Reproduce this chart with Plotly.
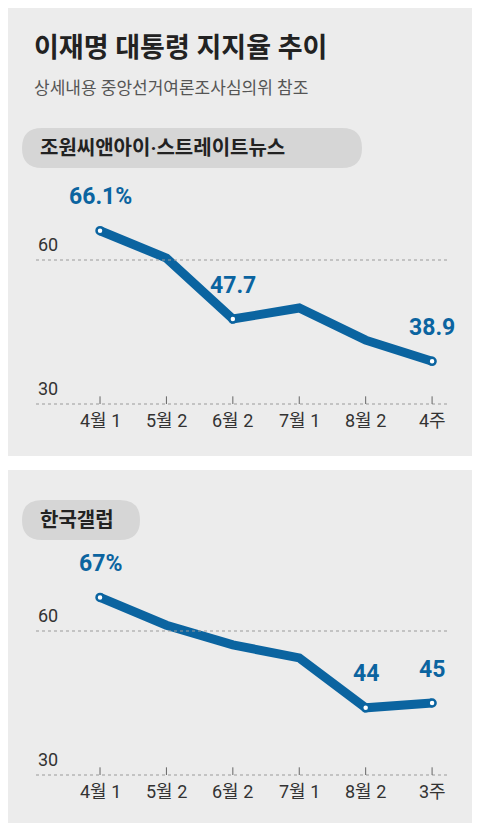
import plotly.graph_objects as go

W, H = 480, 823
weeks_top = ["4월 1", "5월 2", "6월 2", "7월 1", "8월 2", "4주"]
weeks_bottom = ["4월 1", "5월 2", "6월 2", "7월 1", "8월 2", "3주"]
nbs = [66.1, 60.4, 47.7, 50.0, 43.3, 38.9]
gallup = [67, 61.2, 57.1, 54.4, 44, 45]
nbs_labels = ["66.1%", "", "47.7", "", "", "38.9"]
gallup_labels = ["67%", "", "", "", "44", "45"]

BLUE = "#0b64a0"
BG = "#ececec"
FONT = "Roboto, Noto Sans CJK KR"
OFF = 8  # browser body margin compensation


def fy(px):
    return (H - (px - OFF)) / H


def fx(px):
    return (px - OFF) / W


fig = go.Figure()
x_idx = list(range(6))
panels = [
    ("x", "y", nbs, nbs_labels, weeks_top, (200, 420), (26.67, 72.5)),
    ("x2", "y2", gallup, gallup_labels, weeks_bottom, (570, 790), (26.875, 72.71)),
]
for xa, ya, vals, labs, cats, dom, rng in panels:
    fig.add_trace(go.Scatter(
        x=x_idx, y=vals, xaxis=xa, yaxis=ya, mode="lines",
        line=dict(color=BLUE, width=9), hoverinfo="skip"))
    pts = [i for i, t in enumerate(labs) if t]
    fig.add_trace(go.Scatter(
        x=pts, y=[vals[i] for i in pts], xaxis=xa, yaxis=ya, mode="markers",
        marker=dict(color="white", size=7, line=dict(color=BLUE, width=2.5)),
        hoverinfo="skip"))
    for i in pts:
        fig.add_annotation(x=i, y=vals[i], xref=xa, yref=ya, text="<b>" + labs[i] + "</b>",
                           showarrow=False, yshift=34,
                           font=dict(family=FONT, size=23, color=BLUE))
    for v in (60, 30):
        fig.add_shape(type="line", xref=xa + " domain", yref=ya,
                      x0=0, x1=0.99, y0=v, y1=v,
                      line=dict(color="#999", width=1.2, dash="dot"))
        fig.add_annotation(x=0, y=v, xref=xa + " domain", yref=ya, text=str(v),
                           showarrow=False, xanchor="left", yanchor="bottom",
                           yshift=3, font=dict(family=FONT, size=18, color="#333"))
    for i in x_idx:
        fig.add_shape(type="line", xref=xa, yref=ya, x0=i, x1=i, y0=30, y1=31.6,
                      line=dict(color="#666", width=1))
        fig.add_annotation(x=i, y=30, xref=xa, yref=ya, text=cats[i],
                           showarrow=False, yanchor="top", yshift=-4,
                           font=dict(family=FONT, size=18, color="#333"))

ax = dict(range=[-0.964, 5.30], domain=[fx(36), fx(452)], visible=False, fixedrange=True)
fig.update_layout(
    width=W, height=H, margin=dict(l=0, r=0, t=0, b=0),
    paper_bgcolor=BG, plot_bgcolor="rgba(0,0,0,0)", showlegend=False,
    xaxis=ax, xaxis2=dict(ax, anchor="y2"),
    yaxis=dict(range=[26.67, 72.5], domain=[fy(420), fy(200)], visible=False),
    yaxis2=dict(range=[26.875, 72.71], domain=[fy(790), fy(570)], visible=False, anchor="x2"),
)

# white separator between panels
fig.add_shape(type="rect", xref="paper", yref="paper", x0=0, x1=1,
              y0=fy(470), y1=fy(456), fillcolor="white", line_width=0, layer="below")


def pill(x0, x1, y0, y1):
    r = (y1 - y0) / 2
    a, b = fy(y0), fy(y1)
    rx = r / W
    ry = r / H
    X0, X1 = fx(x0), fx(x1)
    path = (f"M {X0 + rx},{a} L {X1 - rx},{a} Q {X1},{a} {X1},{a - ry} "
            f"Q {X1},{b} {X1 - rx},{b} L {X0 + rx},{b} Q {X0},{b} {X0},{b + ry} "
            f"Q {X0},{a} {X0 + rx},{a} Z")
    fig.add_shape(type="path", xref="paper", yref="paper", path=path,
                  fillcolor="#d6d6d6", line_width=0, layer="below")


pill(22, 362, 128, 168)
pill(22, 140, 500, 540)


def text(x, y, s, size, color):
    fig.add_annotation(x=fx(x), y=fy(y), xref="paper", yref="paper", text=s,
                       showarrow=False, xanchor="left", yanchor="middle",
                       font=dict(family=FONT, size=size, color=color))


text(38, 148, "<b>조원씨앤아이·스트레이트뉴스</b>", 20, "#222")
text(38, 520, "<b>한국갤럽</b>", 20, "#222")
text(32, 48, "<b>이재명 대통령 지지율 추이</b>", 27, "#222")
text(32, 88, "상세내용 중앙선거여론조사심의위 참조", 17, "#555")

fig.write_html("out.html")
